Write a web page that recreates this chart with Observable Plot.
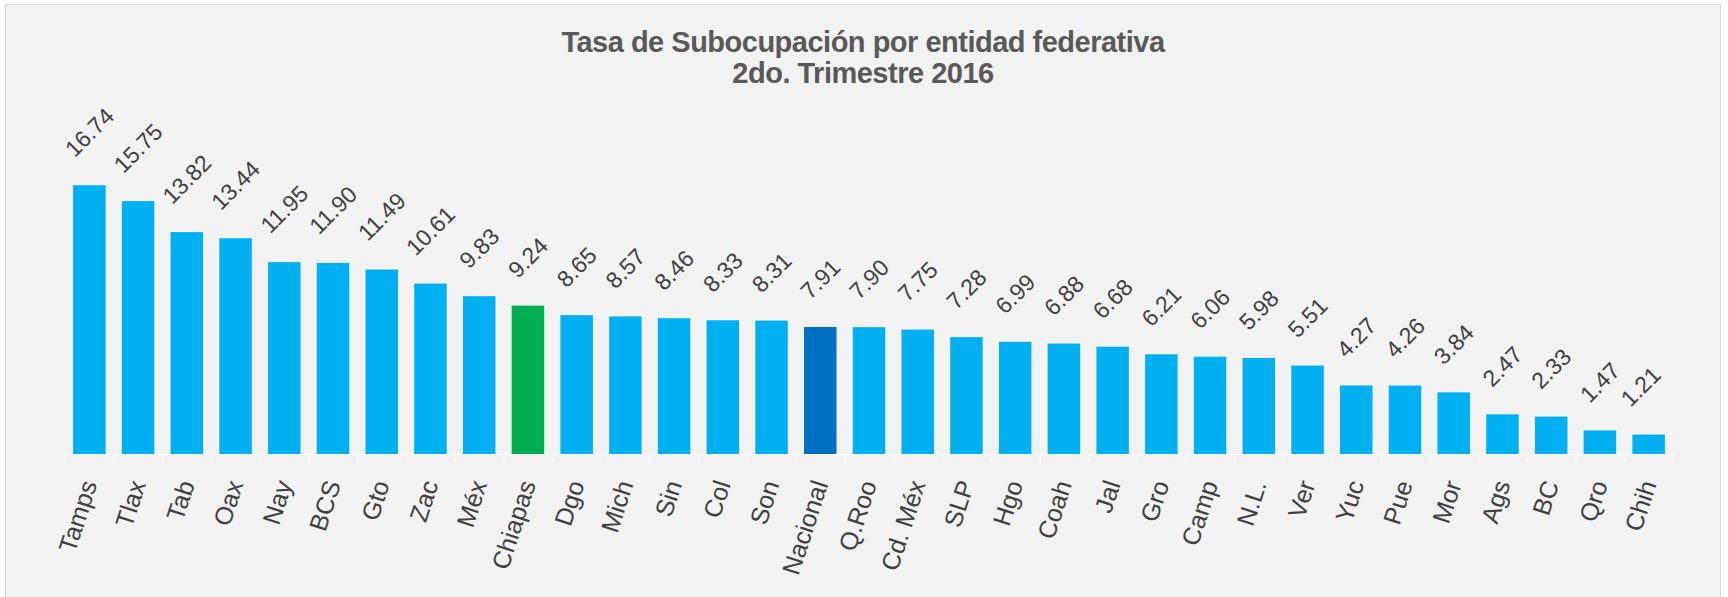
<!DOCTYPE html>
<html><head><meta charset="utf-8">
<script src="https://cdn.jsdelivr.net/npm/d3@7"></script>
<script src="https://cdn.jsdelivr.net/npm/@observablehq/plot@0.6"></script>
<style>
html,body{margin:0;padding:0;background:#fff;overflow:hidden;}
#frame{position:absolute;left:5px;top:4px;width:1716px;height:640px;box-sizing:border-box;border:1px solid #d9d9d9;background:#f2f2f2;}
#title{height:85px;box-sizing:border-box;padding-top:22px;text-align:center;font:bold 29px/31px "Liberation Sans",Arial,sans-serif;color:#595959;letter-spacing:-0.5px;}
#chart svg{display:block;}
</style></head>
<body>
<div id="frame"><div id="title"></div><div id="chart"></div></div>
<script>
const titleLine1 = "Tasa de Subocupación por entidad federativa";
const titleLine2 = "2do. Trimestre 2016";
const categories = ["Tamps","Tlax","Tab","Oax","Nay","BCS","Gto","Zac","Méx","Chiapas","Dgo","Mich","Sin","Col","Son","Nacional","Q.Roo","Cd. Méx","SLP","Hgo","Coah","Jal","Gro","Camp","N.L.","Ver","Yuc","Pue","Mor","Ags","BC","Qro","Chih"];
const values = [16.74,15.75,13.82,13.44,11.95,11.90,11.49,10.61,9.83,9.24,8.65,8.57,8.46,8.33,8.31,7.91,7.90,7.75,7.28,6.99,6.88,6.68,6.21,6.06,5.98,5.51,4.27,4.26,3.84,2.47,2.33,1.47,1.21];
const highlightState = "Chiapas";
const nationalCategory = "Nacional";
const nudgedLabel = "Chih";

document.getElementById("title").innerHTML = titleLine1 + "<br>" + titleLine2;

const data = categories.map((cat, i) => ({cat, val: values[i]}));
const fmt = d3.format(".2f");
const font = "'Liberation Sans', Arial, sans-serif";
const ink = "#404040";

const labelOpts = (dy, dx = 0) => ({
  x: "cat", y: "val", text: d => fmt(d.val), rotate: -45,
  textAnchor: "middle", lineAnchor: "middle", dy, dx,
  fontSize: 23, fill: ink, fontFamily: font
});

const chart = Plot.plot({
  width: 1714,
  height: 507,
  marginTop: 75,
  marginBottom: 143,
  marginLeft: 59,
  marginRight: 47,
  style: {background: "transparent", fontFamily: font},
  x: {domain: categories, paddingInner: 0.333, paddingOuter: 0.1667, round: false, axis: null},
  y: {domain: [0, 18], axis: null},
  marks: [
    Plot.barY(data, {
      x: "cat", y: "val",
      fill: d => d.cat === highlightState ? "#00b050" : d.cat === nationalCategory ? "#0070c0" : "#00b0f0"
    }),
    Plot.ruleY([0], {stroke: "#ffffff", strokeWidth: 1}),
    Plot.ruleX(data, {x: "cat", y1: 0, y2: 0, insetBottom: -9, dx: -24.37, stroke: "#ffffff"}),
    Plot.ruleX(data.slice(-1), {x: "cat", y1: 0, y2: 0, insetBottom: -9, dx: 24.37, stroke: "#ffffff"}),
    Plot.text(data.filter(d => fmt(d.val).length === 5), labelOpts(-53)),
    Plot.text(data.filter(d => fmt(d.val).length === 4 && d.cat !== nudgedLabel), labelOpts(-48)),
    Plot.text(data.filter(d => d.cat === nudgedLabel), labelOpts(-48, -8)),
    Plot.text(data, {
      x: "cat", y: 0, text: "cat", rotate: -72,
      textAnchor: "end", lineAnchor: "middle", dy: 27,
      fontSize: 25, fill: ink, fontFamily: font
    })
  ]
});
document.getElementById("chart").appendChild(chart);
</script>
</body></html>
